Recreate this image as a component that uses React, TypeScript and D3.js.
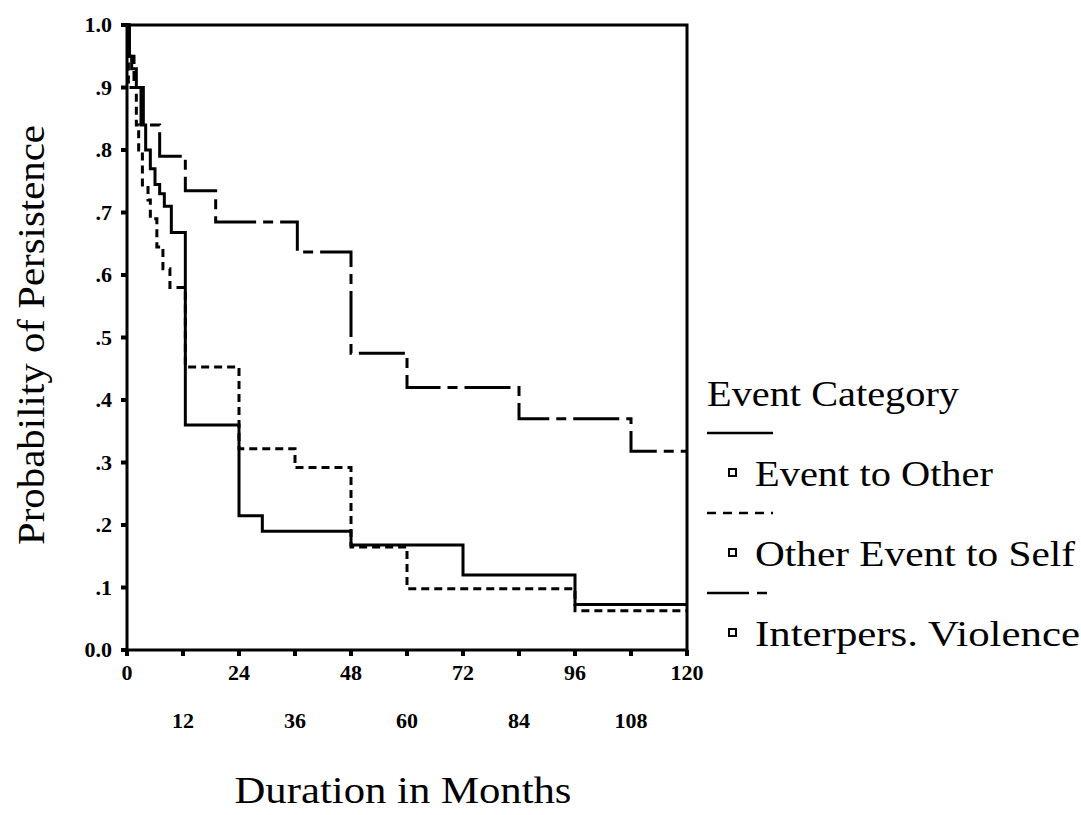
import React from "react";
import * as d3 from "d3";

// Kaplan-Meier style persistence curves
const otherTimes = [0, 0.5, 1, 2, 3, 4, 5, 6, 7, 8, 9.5, 12.5, 24, 29, 48, 72, 96, 120];
const otherProbs = [1.0, 0.95, 0.93, 0.9, 0.84, 0.8, 0.77, 0.745, 0.73, 0.71, 0.668, 0.36, 0.215, 0.19, 0.168, 0.12, 0.073, 0.073];

const selfTimes = [0, 0.3, 2, 2.5, 3.3, 4.5, 5, 6.4, 7.7, 9.2, 12.5, 24, 36, 48, 60, 96, 120];
const selfProbs = [1.0, 0.9, 0.84, 0.8, 0.74, 0.72, 0.69, 0.645, 0.61, 0.58, 0.453, 0.322, 0.292, 0.165, 0.098, 0.063, 0.063];

const violenceTimes = [0, 0.5, 1.5, 3.5, 7, 12.5, 19, 36.5, 48, 60, 84, 108, 120];
const violenceProbs = [1.0, 0.95, 0.9, 0.84, 0.79, 0.735, 0.685, 0.637, 0.475, 0.42, 0.37, 0.318, 0.318];

const yTicks = [0, 0.1, 0.2, 0.3, 0.4, 0.5, 0.6, 0.7, 0.8, 0.9, 1.0];
const yTickLabels = ["0.0", ".1", ".2", ".3", ".4", ".5", ".6", ".7", ".8", ".9", "1.0"];
const xTicks = [0, 12, 24, 36, 48, 60, 72, 84, 96, 108, 120];

const legendLabels = ["Event to Other", "Other Event to Self", "Interpers. Violence"];
const legendWidths = [238, 320, 325];
const dashes = ["none", "8,5", "46,7,10,7"];

const serif = "Liberation Serif, Times New Roman, Times, serif";

function App() {
  const x = d3.scaleLinear().domain([0, 120]).range([127, 687]);
  const y = d3.scaleLinear().domain([0, 1]).range([650, 25]);

  const line = d3
    .line<[number, number]>()
    .x((d) => x(d[0]))
    .y((d) => y(d[1]))
    .curve(d3.curveStepAfter);

  const series = [
    d3.zip(otherTimes, otherProbs) as [number, number][],
    d3.zip(selfTimes, selfProbs) as [number, number][],
    d3.zip(violenceTimes, violenceProbs) as [number, number][],
  ];

  const txt = { fontFamily: serif };

  return (
    <svg width={1081} height={815} style={{ position: "absolute", left: 0, top: 0, background: "#fff" }}>
      {/* curves */}
      {series.map((s, i) => (
        <path
          key={i}
          d={line(s) || ""}
          fill="none"
          stroke="#000"
          strokeWidth={3}
          strokeDasharray={dashes[i]}
        />
      ))}

      {/* frame */}
      <rect x={x(0)} y={y(1)} width={x(120) - x(0)} height={y(0) - y(1)} fill="none" stroke="#000" strokeWidth={3} />

      {/* y axis ticks */}
      {yTicks.map((t, i) => (
        <g key={t}>
          <line x1={x(0) - 6} x2={x(0)} y1={y(t)} y2={y(t)} stroke="#000" strokeWidth={4} />
          <text x={112} y={y(t) + 7} textAnchor="end" fontSize={22} fontWeight="bold" style={txt}>
            {yTickLabels[i]}
          </text>
        </g>
      ))}

      {/* x axis ticks, labels alternate between two rows */}
      {xTicks.map((t, i) => (
        <g key={t}>
          <line x1={x(t)} x2={x(t)} y1={y(0)} y2={y(0) + 6} stroke="#000" strokeWidth={4} />
          <text x={x(t)} y={i % 2 === 0 ? 680 : 728} textAnchor="middle" fontSize={22} fontWeight="bold" style={txt}>
            {t}
          </text>
        </g>
      ))}

      {/* axis titles */}
      <text
        transform="translate(44,335) rotate(-90)"
        textAnchor="middle"
        fontSize={38}
        textLength={420}
        lengthAdjust="spacingAndGlyphs"
        style={txt}
      >
        Probability of Persistence
      </text>
      <text x={403} y={803} textAnchor="middle" fontSize={38} textLength={337} lengthAdjust="spacingAndGlyphs" style={txt}>
        Duration in Months
      </text>

      {/* legend */}
      <text x={707} y={406} fontSize={35} textLength={252} lengthAdjust="spacingAndGlyphs" style={txt}>
        Event Category
      </text>
      {legendLabels.map((lab, i) => {
        const top = 433 + i * 80;
        return (
          <g key={lab}>
            <line x1={707} x2={773} y1={top} y2={top} stroke="#000" strokeWidth={2.5} strokeDasharray={i === 2 ? "42,8,10,8" : i === 1 ? "9,7" : "none"} />
            <rect x={729} y={top + 36} width={7} height={7} fill="none" stroke="#000" strokeWidth={2} />
            <text x={755} y={top + 53} fontSize={35} textLength={legendWidths[i]} lengthAdjust="spacingAndGlyphs" style={txt}>
              {lab}
            </text>
          </g>
        );
      })}
    </svg>
  );
}

export default App;
